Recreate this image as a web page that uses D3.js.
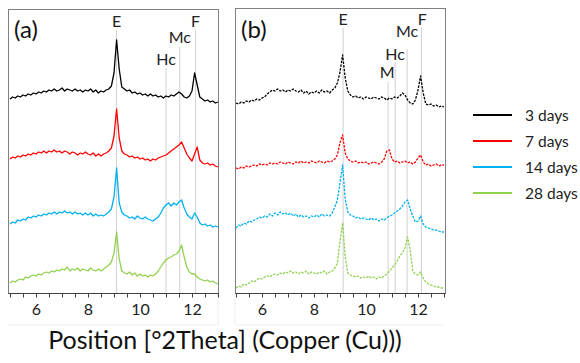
<!DOCTYPE html>
<html>
<head>
<meta charset="utf-8">
<script src="https://cdn.jsdelivr.net/npm/d3@7"></script>
<style>
  html, body { margin: 0; padding: 0; background: #fff; }
  svg { display: block; font-family: Lato, "Open Sans", "Liberation Sans", sans-serif; }
</style>
</head>
<body>
<svg id="chart" width="580" height="363"></svg>
<script>
// ---------------- data ----------------
const seriesNames = ["3 days", "7 days", "14 days", "28 days"];
const seriesColors = ["#000000", "#ff0000", "#00b0f0", "#92d050"];
const seriesOffsets = [185, 120, 60, 0];      // vertical stacking offsets (a.u.)
const xTicks = [6, 8, 10, 12];
const twoTheta = d3.range(81).map(i => +(5 + i * 0.1).toFixed(1)); // 5.0 .. 13.0

// panel (a) intensities (a.u.)
const a3 = [9,11,10,12,11,13,12,14,13,15, 14,16,15,17,16,18,17,19,17,18, 20,17,19,18,17,19,17,18,16,18,
  17,19,16,18,15,17,16,18,19,22, 35,68,39,21,19,17,18,15,16,14, 15,13,14,12,14,12,13,11,12,10,
  12,11,13,12,14,16,14,11,10,12, 17,35,23,11,9,7,8,6,7,5, 6];
const a7 = [14,16,15,17,16,18,17,19,18,20, 19,21,20,22,20,22,21,23,21,22, 20,22,21,19,21,20,18,20,19,21,
  19,18,20,17,19,17,19,20,22,25, 37,64,35,22,19,18,16,17,15,16, 14,15,13,14,12,14,13,15,16,17,
  18,20,22,24,26,28,31,25,19,15, 12,19,26,13,10,9,10,8,9,7, 6];
const a14 = [9,11,10,13,12,14,13,16,15,17, 16,18,17,19,18,20,19,21,19,21, 20,22,20,21,19,21,19,20,18,20,
  18,20,17,19,17,18,17,19,21,24, 36,65,30,21,18,17,15,16,14,17, 15,14,16,14,13,12,14,16,20,25,
  28,30,27,30,28,31,33,25,19,16, 14,20,16,10,8,9,7,8,6,7, 6];
const a28 = [10,12,11,13,14,13,16,15,17,18, 17,19,18,20,21,20,22,21,23,22, 24,23,26,22,24,23,25,22,24,23,
  22,25,23,22,24,22,24,26,28,31, 40,61,34,22,20,19,21,18,20,17, 19,17,18,16,18,17,19,22,26,30,
  33,35,36,38,39,42,48,36,26,21, 19,19,16,14,13,12,13,11,12,10, 9];

// panel (b) intensities (a.u.)
const b3 = [5,4,6,5,7,6,8,7,9,8, 10,11,14,16,18,17,19,17,18,16, 18,17,19,17,16,18,15,17,14,16,
  15,17,15,18,16,17,15,18,20,25, 36,53,30,17,13,11,12,10,11,9, 11,10,9,11,10,9,11,10,8,10,
  9,11,10,12,15,13,8,5,4,8, 18,32,15,4,3,4,2,3,1,2, 1];
const b7 = [5,4,6,5,7,6,7,8,7,9, 8,9,8,10,9,10,9,11,10,9, 11,10,9,11,10,12,10,11,10,12,
  11,10,12,11,10,12,11,12,14,18, 30,38,20,14,12,11,12,10,11,10, 11,9,10,11,10,9,11,14,22,23,
  14,11,12,10,11,12,10,11,9,11, 15,18,11,8,9,7,8,9,7,8, 8];
const b14 = [5,8,7,10,9,12,11,13,14,16, 15,17,16,19,17,20,18,21,19,20, 18,20,17,19,16,18,16,17,15,17,
  16,18,16,19,17,18,17,20,26,33, 50,68,34,21,18,17,15,16,14,15, 14,13,15,13,14,12,14,13,15,17,
  18,20,22,24,27,31,33,24,17,11, 12,17,9,6,5,4,3,3,2,1, 1];
const b28 = [5,7,6,9,8,10,12,11,13,15, 14,16,17,16,18,19,18,20,19,21, 20,22,20,21,19,21,20,22,19,21,
  20,19,21,20,22,19,21,22,25,30, 52,70,36,20,18,17,16,17,15,16, 15,17,15,16,14,16,15,17,19,22,
  25,28,32,37,40,45,56,42,22,19, 18,21,15,11,9,8,7,6,6,5, 5];

// phase reference lines: label, 2theta position
const peaksA = [
  {label: "E", pos: 9.1},
  {label: "Hc", pos: 11.0},
  {label: "Mc", pos: 11.53},
  {label: "F", pos: 12.14}
];
const peaksB = [
  {label: "E", pos: 9.12},
  {label: "M", pos: 10.85},
  {label: "Hc", pos: 11.12},
  {label: "Mc", pos: 11.58},
  {label: "F", pos: 12.13}
];
// label layout (pixels): baseline of text, start of guide line, horizontal nudge
const layoutA = [{base: 27, top: 30, dx: 0}, {base: 65, top: 68, dx: 0}, {base: 43, top: 47, dx: 0}, {base: 27, top: 30, dx: 0}];
const layoutB = [{base: 25, top: 28, dx: 0}, {base: 78, top: 82, dx: -1}, {base: 60, top: 62, dx: 0}, {base: 37, top: 49, dx: 0}, {base: 25, top: 27, dx: 1}];

const panels = [
  {id: "(a)", series: [a3, a7, a14, a28], peaks: peaksA, layout: layoutA, x0: 10, x1: 218, frameL: 8, frameR: 218, frameT: 9, dashed: false},
  {id: "(b)", series: [b3, b7, b14, b28], peaks: peaksB, layout: layoutB, x0: 236, x1: 444, frameL: 235, frameR: 445, frameT: 8, dashed: true}
];

// ---------------- drawing ----------------
const svg = d3.select("#chart");
const bottom = 293;
const y = d3.scaleLinear().domain([0, 290]).range([bottom, 3]);

// faint outer plot borders (chart area)
svg.append("line").attr("x1", 218).attr("x2", 218).attr("y1", 293).attr("y2", 325).attr("stroke", "#f0f0f0");
svg.append("line").attr("x1", 8).attr("x2", 218).attr("y1", 325).attr("y2", 325).attr("stroke", "#f0f0f0");
svg.append("line").attr("x1", 235).attr("x2", 235).attr("y1", 293).attr("y2", 325).attr("stroke", "#f0f0f0");
svg.append("line").attr("x1", 235).attr("x2", 445).attr("y1", 325).attr("y2", 325).attr("stroke", "#f0f0f0");

panels.forEach(p => {
  const x = d3.scaleLinear().domain([5, 13]).range([p.x0, p.x1]);
  const g = svg.append("g");

  // frame
  g.append("rect")
    .attr("x", p.frameL + 0.5).attr("y", p.frameT + 0.5)
    .attr("width", p.frameR - p.frameL).attr("height", bottom - p.frameT)
    .attr("fill", "none").attr("stroke", "#808080").attr("stroke-width", 1);

  // reference lines + labels
  p.peaks.forEach((pk, k) => {
    const L = p.layout[k];
    g.append("line")
      .attr("x1", x(pk.pos)).attr("x2", x(pk.pos))
      .attr("y1", L.top).attr("y2", bottom)
      .attr("stroke", "#d0d0d0").attr("stroke-width", 1);
    g.append("text")
      .attr("x", x(pk.pos) + L.dx).attr("y", L.base)
      .attr("text-anchor", "middle")
      .attr("font-size", 16).attr("fill", "#222")
      .text(pk.label);
  });

  // traces
  const line = d3.line()
    .x((d, i) => x(twoTheta[i]))
    .y(d => d);
  p.series.forEach((vals, si) => {
    const pts = vals.map(v => y(v + seriesOffsets[si]));
    g.append("path")
      .attr("d", line(pts))
      .attr("fill", "none")
      .attr("stroke", seriesColors[si])
      .attr("stroke-width", 1.3)
      .attr("stroke-linejoin", "round")
      .attr("stroke-dasharray", p.dashed ? "2.5,1.2" : null);
  });

  // x axis
  const axis = d3.axisBottom(x)
    .tickValues(d3.range(5, 13.01, 0.5))
    .tickSize(4)
    .tickFormat(d => xTicks.includes(d) ? d : "");
  const ax = g.append("g").attr("transform", `translate(0,${bottom + 0.5})`).call(axis);
  ax.select(".domain").attr("stroke", "#404040").attr("d", `M${p.frameL + 0.5},0H${p.frameR + 0.5}`);
  ax.selectAll(".tick line").attr("stroke", "#404040");
  ax.selectAll(".tick text")
    .attr("font-family", "Lato, 'Open Sans', sans-serif")
    .attr("font-size", 16).attr("fill", "#222").attr("dy", "0.9em");

  // panel id
  g.append("text")
    .attr("x", p.frameL + 6).attr("y", 38)
    .attr("font-size", 24).attr("fill", "#111")
    .text(p.id);
});

// legend
const legend = svg.append("g");
seriesNames.forEach((name, i) => {
  const ly = 115 + i * 26;
  legend.append("line")
    .attr("x1", 473).attr("x2", 512).attr("y1", ly).attr("y2", ly)
    .attr("stroke", seriesColors[i]).attr("stroke-width", 2);
  legend.append("text")
    .attr("x", 525).attr("y", ly + 5.5)
    .attr("font-size", 15.5).attr("fill", "#222")
    .text(name);
});

// axis title
svg.append("text")
  .attr("x", 225).attr("y", 349)
  .attr("text-anchor", "middle")
  .attr("font-size", 25).attr("fill", "#111")
  .text("Position [°2Theta] (Copper (Cu)))");
</script>
</body>
</html>
